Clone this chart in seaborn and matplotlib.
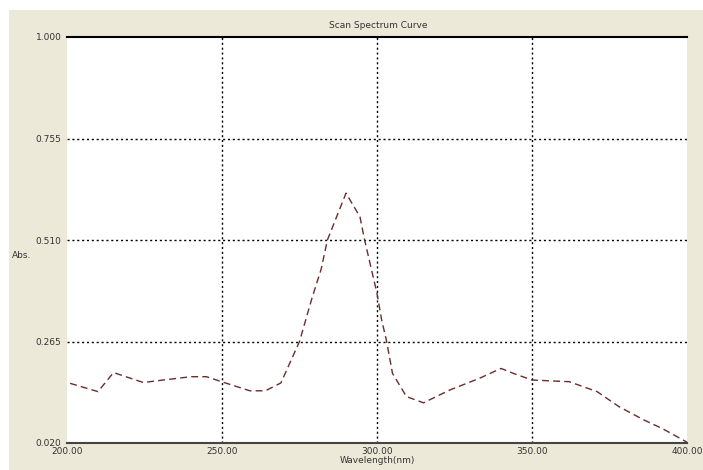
import pandas as pd
import seaborn as sns
import matplotlib.pyplot as plt
from matplotlib.patches import Rectangle

# spectrum
wavelength = [201, 210, 215, 224.6, 231, 240, 245, 251.5, 259, 264, 269, 275, 279, 282,
              284, 290, 294.5, 296, 300, 301.5, 303, 305, 309.5, 315, 323.5, 333, 340,
              344, 350, 362, 371, 378, 386, 392, 400]
absorbance = [0.164, 0.144, 0.190, 0.166, 0.172, 0.180, 0.180, 0.164, 0.146, 0.146, 0.165,
              0.265, 0.369, 0.440, 0.510, 0.623, 0.566, 0.510, 0.381, 0.317, 0.269, 0.188,
              0.132, 0.117, 0.148, 0.176, 0.200, 0.188, 0.172, 0.168, 0.144, 0.108, 0.076,
              0.055, 0.022]

x_ticks = [200, 250, 300, 350, 400]
x_tick_labels = ['200.00', '250.00', '300.00', '350.00', '400.00']
y_ticks = [0.020, 0.265, 0.510, 0.755, 1.000]
y_tick_labels = ['0.020', '0.265', '0.510', '0.755', '1.000']

df = pd.DataFrame({'Wavelength(nm)': wavelength, 'Abs.': absorbance})

sns.set_style('white')
plt.rcParams['font.family'] = ['DejaVu Sans']

fig = plt.figure(figsize=(7.03, 4.70), dpi=100)
fig.patch.set_facecolor('#ECE9D8')
# thin white strips at top and left, like the window edge
fig.patches.append(Rectangle((0, 0), 9 / 703, 1, transform=fig.transFigure,
                             facecolor='white', edgecolor='none', zorder=-10))
fig.patches.append(Rectangle((0, 1 - 10 / 470), 1, 10 / 470, transform=fig.transFigure,
                             facecolor='white', edgecolor='none', zorder=-10))

ax = fig.add_axes([67 / 703, 27 / 470, 620 / 703, 406 / 470])
ax.set_facecolor('white')

sns.lineplot(data=df, x='Wavelength(nm)', y='Abs.', ax=ax, color='#6a2c2c',
             linewidth=1.0, linestyle=(0, (5, 3)))

ax.set_xlim(200, 400)
ax.set_ylim(0.020, 1.000)
ax.set_xticks(x_ticks)
ax.set_xticklabels(x_tick_labels)
ax.set_yticks(y_ticks)
ax.set_yticklabels(y_tick_labels)
ax.tick_params(axis='both', length=0, labelsize=6.5, labelcolor='#333333')
ax.tick_params(axis='x', pad=3)
ax.tick_params(axis='y', pad=4)

# dotted grid at the inner ticks only
for xv in x_ticks[1:-1]:
    ax.axvline(xv, color='black', linestyle=(0, (1.5, 2)), linewidth=1.0, zorder=1)
for yv in y_ticks[1:-1]:
    ax.axhline(yv, color='black', linestyle=(0, (1.5, 2)), linewidth=1.0, zorder=1)

for side in ['left', 'right']:
    ax.spines[side].set_visible(False)
ax.spines['top'].set_color('black')
ax.spines['top'].set_linewidth(1.5)
ax.spines['bottom'].set_color('#444444')
ax.spines['bottom'].set_linewidth(1.5)

ax.set_xlabel('Wavelength(nm)', fontsize=6.5, color='#333333', labelpad=0)
ax.set_ylabel('')
fig.text(12 / 703, 1 - 255 / 470, 'Abs.', fontsize=6.5, color='#333333', va='center')
fig.text(378 / 703, 1 - 25 / 470, 'Scan Spectrum Curve', fontsize=6.5, color='#333333',
         ha='center', va='center')

fig.savefig('out.png', dpi=100, facecolor=fig.get_facecolor())
